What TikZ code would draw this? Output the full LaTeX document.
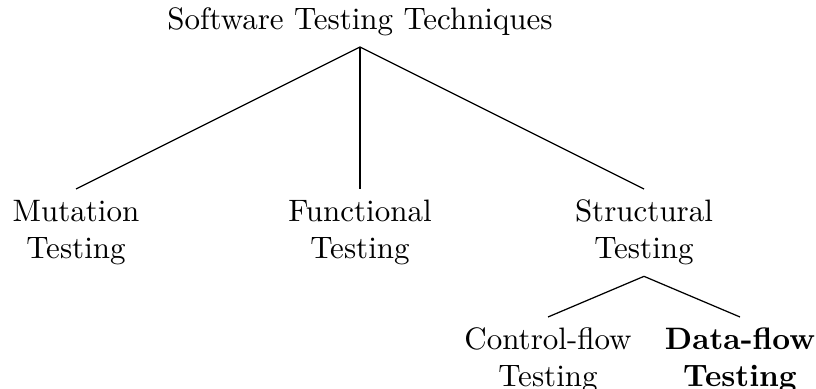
\documentclass[tikz,border=0pt]{standalone}
\begin{document}
\begin{tikzpicture}[x=0.3226pt,y=-0.3226pt,
  item/.style={align=center,inner sep=0.3333em},
  link/.style={draw=black,line width=0.4pt}]
\useasboundingbox (0,0) rectangle (816,389);
% root of the taxonomy
\node[item,anchor=south] (root) at (360,47) {Software Testing Techniques};
% first level
\node[item,anchor=north] (mut) at (76,189) {Mutation\\Testing};
\node[item,anchor=north] (fun) at (360,189) {Functional\\Testing};
\node[item,anchor=north] (str) at (644,189) {Structural\\Testing};
% second level under structural testing
\node[item,anchor=north] (cf) at (548,317) {Control-flow\\Testing};
\node[item,anchor=north,font=\bfseries] (df) at (740,317) {Data-flow\\Testing};
% connectors
\draw[link] (root.south) -- (mut.north);
\draw[link] (root.south) -- (fun.north);
\draw[link] (root.south) -- (str.north);
\draw[link] (str.south) -- (cf.north);
\draw[link] (str.south) -- (df.north);
\end{tikzpicture}
\end{document}
